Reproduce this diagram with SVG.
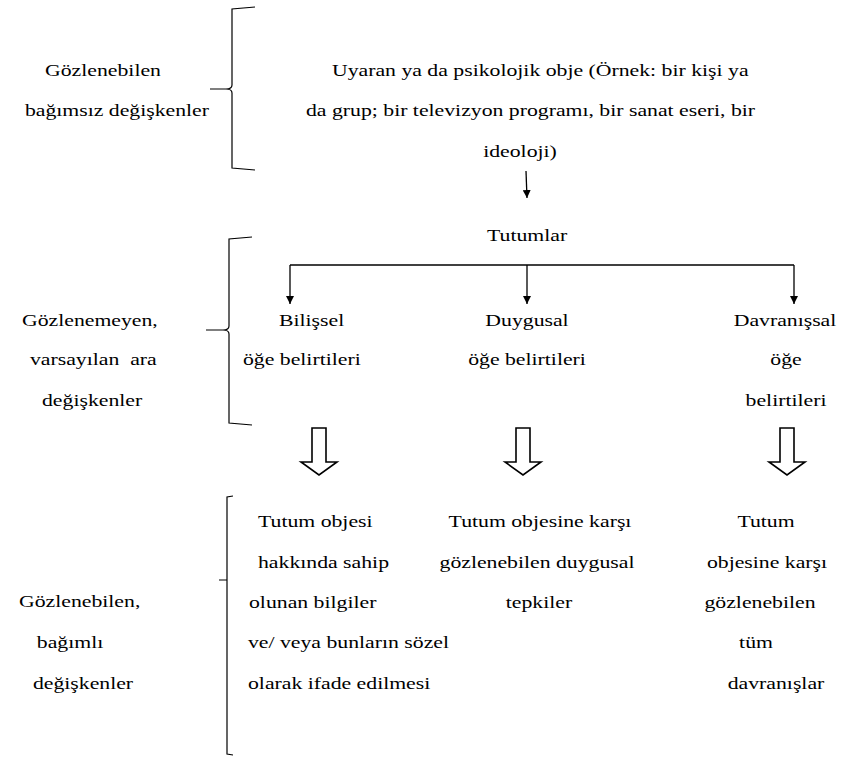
<svg xmlns="http://www.w3.org/2000/svg" width="846" height="758" viewBox="0 0 846 758">
  <style>
    text { font-family: "Liberation Serif", "Times New Roman", serif; font-size: 16px; fill: #000; }
    .c { text-anchor: middle; }
    .e { text-anchor: end; }
    .ln { fill: none; stroke: #000; stroke-width: 1.3; }
    .br { fill: none; stroke: #000; stroke-width: 1.2; }
    .hollow { fill: #fff; stroke: #000; stroke-width: 1.6; stroke-linejoin: miter; }
  </style>
  <defs>
    <marker id="ah" viewBox="0 0 10 10" refX="10" refY="5" markerWidth="8" markerHeight="8" markerUnits="userSpaceOnUse" orient="auto">
      <path d="M0,0 L10,5 L0,10 z" fill="#000"/>
    </marker>
    <path id="hollowArrow" d="M-7,0 L7,0 L7,34 L18,34 L0,47 L-18,34 L-7,34 Z"/>
  </defs>
  <rect width="846" height="758" fill="#fff"/>

  <!-- all lines use a horizontally widened serif (scale 1.36 x 1) -->

  <g id="label-observable-independent">
    <text class="c" transform="translate(103,76) scale(1.36,1)">Gözlenebilen</text>
    <text class="e" transform="translate(209,116) scale(1.36,1)">bağımsız değişkenler</text>
    <path class="br" d="M255,7 L232,9 L232,85 Q232,89 226,89 L210,89 M226,89 Q232,89 232,93 L232,168 L255,170"/>
  </g>

  <g id="label-unobservable">
    <text transform="translate(22,326) scale(1.36,1)">Gözlenemeyen,</text>
    <text transform="translate(30,365) scale(1.36,1)" xml:space="preserve">varsayılan  ara</text>
    <text transform="translate(42,406) scale(1.36,1)">değişkenler</text>
    <path class="br" d="M252,237 L229,239 L229,326 Q229,330 223,330 L206,330 M223,330 Q229,330 229,334 L229,423 L252,425"/>
  </g>

  <g id="label-observable-dependent">
    <text transform="translate(19,607) scale(1.36,1)">Gözlenebilen,</text>
    <text class="c" transform="translate(70,648) scale(1.36,1)">bağımlı</text>
    <text class="c" transform="translate(83,689) scale(1.36,1)">değişkenler</text>
    <path class="br" d="M233,496 L227,497 L227,580 L219,580 M227,580 L227,754 L233,755"/>
  </g>

  <g id="node-stimulus">
    <text transform="translate(332,76) scale(1.36,1)">Uyaran ya da psikolojik obje (Örnek: bir kişi ya</text>
    <text transform="translate(306,116) scale(1.36,1)">da grup; bir televizyon programı, bir sanat eseri, bir</text>
    <text class="c" transform="translate(520,157) scale(1.36,1)">ideoloji)</text>
  </g>

  <g id="node-attitudes">
    <text transform="translate(487,241) scale(1.36,1)">Tutumlar</text>
  </g>

  <g id="node-cognitive">
    <text transform="translate(279,326) scale(1.36,1)">Bilişsel</text>
    <text transform="translate(243,365) scale(1.36,1)">öğe belirtileri</text>
  </g>

  <g id="node-affective">
    <text class="c" transform="translate(527,326) scale(1.36,1)">Duygusal</text>
    <text class="c" transform="translate(527,365) scale(1.36,1)">öğe belirtileri</text>
  </g>

  <g id="node-behavioral">
    <text class="c" transform="translate(785,326) scale(1.36,1)">Davranışsal</text>
    <text class="c" transform="translate(786,365) scale(1.36,1)">öğe</text>
    <text class="c" transform="translate(786,406) scale(1.36,1)">belirtileri</text>
  </g>

  <g id="node-cognitive-response">
    <text transform="translate(258,527) scale(1.36,1)">Tutum objesi</text>
    <text transform="translate(258,568) scale(1.36,1)">hakkında sahip</text>
    <text transform="translate(249,608) scale(1.36,1)">olunan bilgiler</text>
    <text transform="translate(248,648) scale(1.36,1)">ve/ veya bunların sözel</text>
    <text transform="translate(248,689) scale(1.36,1)">olarak ifade edilmesi</text>
  </g>

  <g id="node-affective-response">
    <text class="c" transform="translate(540,527) scale(1.36,1)">Tutum objesine karşı</text>
    <text class="c" transform="translate(537,568) scale(1.36,1)">gözlenebilen duygusal</text>
    <text class="c" transform="translate(539,608) scale(1.36,1)">tepkiler</text>
  </g>

  <g id="node-behavioral-response">
    <text class="c" transform="translate(766,527) scale(1.36,1)">Tutum</text>
    <text class="c" transform="translate(767,568) scale(1.36,1)">objesine karşı</text>
    <text class="c" transform="translate(760,608) scale(1.36,1)">gözlenebilen</text>
    <text class="c" transform="translate(756,648) scale(1.36,1)">tüm</text>
    <text class="c" transform="translate(776,689) scale(1.36,1)">davranışlar</text>
  </g>

  <g id="connectors">
    <line class="ln" x1="526" y1="171" x2="527" y2="198" marker-end="url(#ah)"/>
    <path class="ln" d="M290,265 L794,265"/>
    <line class="ln" x1="290" y1="265" x2="290" y2="304" marker-end="url(#ah)"/>
    <line class="ln" x1="527" y1="265" x2="527" y2="304" marker-end="url(#ah)"/>
    <line class="ln" x1="794" y1="265" x2="794" y2="304" marker-end="url(#ah)"/>
    <use href="#hollowArrow" class="hollow" x="319" y="428"/>
    <use href="#hollowArrow" class="hollow" x="523" y="428"/>
    <use href="#hollowArrow" class="hollow" x="787" y="428"/>
  </g>
</svg>
